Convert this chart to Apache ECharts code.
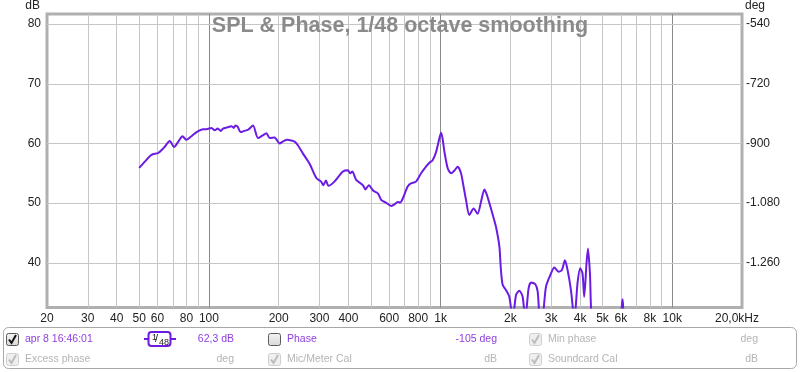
<!DOCTYPE html>
<html><head><meta charset="utf-8">
<script src="https://cdn.jsdelivr.net/npm/echarts@6/dist/echarts.min.js"></script>
<style>html,body{margin:0;padding:0;background:#fff}#c{width:800px;height:372px}</style>
</head><body><div id="c"></div>
<script>
// ---- data ----
const freqHz = [50,53,56.5,60.4,64,67.8,70.7,74,76.9,80,84,88.4,94.4,97.5,102.6,106,109,112.6,115,120,125,128,130,133,137,142,147.5,155,162.8,170,177,183,192,202,210,218,226,234.5,242,254.6,272,290.8,305,312,320,328,348,378.6,398,407,416,432,461.8,474,490,511,537,555,580,612,632,653,669,687,721,745,783,824,865,897,924,955,987,1005,1020,1039,1074,1110,1150,1185,1225,1260,1288,1330,1388,1444,1500,1545,1580,1624,1680,1735,1794,1820,1853,1917,1980,2050,2116,2187,2260,2320,2398,2457,2564,2624,2690,2760,2851,2995,3096,3230,3340,3442,3532,3653,3780,3900,4006,4098,4168,4266,4326,4413,4500,4800,5500,5950,6100,6250,7000];
const splDb = [55.9,57.0,58.1,58.4,59.3,60.4,59.4,60.4,61.2,60.6,61.2,61.9,62.4,62.4,62.6,62.2,62.5,62.1,62.5,62.7,62.9,62.6,63.0,62.8,61.9,62.1,62.3,63.0,60.9,61.3,61.7,60.9,61.0,60.0,60.4,60.6,60.5,60.3,59.7,58.3,56.6,54.2,53.6,53.0,53.8,52.9,53.6,55.3,55.5,55.0,55.3,53.9,53.0,52.3,53.0,52.1,51.6,50.5,50.1,49.5,49.8,50.2,50.1,50.8,52.8,53.3,53.6,55.0,56.1,56.8,57.2,58.5,60.8,61.8,60.8,58.6,55.8,55.0,55.5,56.1,55.0,52.5,50.5,48.0,49.1,48.2,50.5,52.3,51.5,50.0,48.0,46.0,42.7,39.0,36.3,35.4,34.3,30.5,34.6,35.3,34.3,30.5,35.7,36.7,36.4,35.2,30.5,31.0,36.0,38.2,39.2,38.5,38.8,40.4,38.8,35.4,30.5,36.6,39.1,38.2,34.3,40.0,42.4,38.2,30.5,28.0,28.0,30.0,33.9,30.0,28.0];

const xTickValues = [20,30,40,50,60,80,100,200,300,400,600,800,1000,2000,3000,4000,5000,6000,8000,10000,20000];
const xTickLabels = ['20','30','40','50','60','80','100','200','300','400','600','800','1k','2k','3k','4k','5k','6k','8k','10k','20,0kHz'];
const xMinorGrid = [30,40,50,60,70,80,90,200,300,400,500,600,700,800,900,2000,3000,4000,5000,6000,7000,8000,9000];
const xMajorGrid = [100,1000,10000];
const dbTickValues = [40,50,60,70,80];
const phaseTickValues = [-540,-720,-900,-1080,-1260];

const dbRange = [32.5, 81.7];
const phaseRange = [-540 - 18 * (80 - dbRange[0]), -540 + 18 * (dbRange[1] - 80)];

// ---- styles ----
const FONT = 'Liberation Sans';
const PURPLE_LINE = '#6b1be3';
const PURPLE_TXT = '#9040e0';
const GRAY_TXT = '#b4b4b4';
const CLEAR = 'rgba(0,0,0,0)';

function fmtDeg(v) {
  const s = String(Math.abs(v));
  const t = s.length > 3 ? s.slice(0, s.length - 3) + '.' + s.slice(-3) : s;
  return (v < 0 ? '-' : '') + t;
}

const gridLineData = [];
xMinorGrid.forEach(v => gridLineData.push({xAxis: v, lineStyle: {color: '#c6c6c6', width: 1, type: 'solid'}, label: {show: false}}));
xMajorGrid.forEach(v => gridLineData.push({xAxis: v, lineStyle: {color: '#8a8a8a', width: 1, type: 'solid'}, label: {show: false}}));
dbTickValues.forEach(v => gridLineData.push({yAxis: v, lineStyle: {color: '#c6c6c6', width: 1, type: 'solid'}, label: {show: false}}));
xTickValues.forEach((v, i) => gridLineData.push({xAxis: v, lineStyle: {color: CLEAR, width: 1},
  label: {show: true, position: 'start', distance: 5, formatter: xTickLabels[i], color: '#222', fontFamily: FONT, fontSize: 12,
          padding: i === xTickValues.length - 1 ? [0, 10, 0, 0] : 0}}));
dbTickValues.forEach(v => gridLineData.push({yAxis: v, lineStyle: {color: CLEAR, width: 1}, label: {show: true, position: 'start', distance: 6, formatter: String(v), color: '#222', fontFamily: FONT, fontSize: 12}}));

const phaseLabelData = phaseTickValues.map(v => ({yAxis: v, lineStyle: {color: CLEAR, width: 1}, label: {show: true, position: 'end', distance: 4, formatter: fmtDeg(v), color: '#222', fontFamily: FONT, fontSize: 12}}));

// ---- legend panel graphics ----
function checkbox(x, y, state) {
  const dim = state === 'dim';
  const children = [{type: 'rect', shape: {x: x + 0.5, y: y + 0.5, width: 12, height: 12, r: 2},
    style: {fill: dim ? '#efefef' : {type: 'linear', x: 0, y: 0, x2: 0, y2: 1, colorStops: [{offset: 0, color: '#f4f4f4'}, {offset: 1, color: '#d8d8d8'}]},
            stroke: dim ? '#cfcfcf' : '#5a5a5a', lineWidth: 1}}];
  if (state !== 'off') {
    children.push({type: 'polyline', shape: {points: [[x + 3, y + 6.5], [x + 5.5, y + 10], [x + 10, y + 2]]},
      style: {stroke: dim ? '#bcbcbc' : '#111', lineWidth: 2, fill: null}});
  }
  return {type: 'group', children};
}
function txt(x, y, s, color, align) {
  return {type: 'text', x, y, style: {text: s, fill: color, font: '10.5px "' + FONT + '"', textAlign: align || 'left', textVerticalAlign: 'middle'}};
}
const R1 = 339, R2 = 359;
const graphics = [
  {type: 'rect', shape: {x: 3.5, y: 327.5, width: 793, height: 41, r: 5}, style: {fill: '#fff', stroke: '#a8a8a8', lineWidth: 1}},
  checkbox(6, 333, 'on'), txt(25, R1, 'apr 8 16:46:01', PURPLE_TXT),
  {type: 'line', shape: {x1: 144, y1: R1, x2: 176, y2: R1}, style: {stroke: PURPLE_LINE, lineWidth: 2}},
  {type: 'rect', shape: {x: 148.5, y: 332, width: 22, height: 14, r: 3}, style: {fill: '#fff', stroke: PURPLE_LINE, lineWidth: 2}},
  {type: 'text', x: 152, y: 333, style: {text: '1', fill: '#222', font: '9px "' + FONT + '"'}},
  {type: 'text', x: 155, y: 333, style: {text: '/', fill: '#222', font: '11px "' + FONT + '"'}},
  {type: 'text', x: 159, y: 338, style: {text: '48', fill: '#222', font: '9px "' + FONT + '"'}},
  txt(234, R1, '62,3 dB', PURPLE_TXT, 'right'),
  checkbox(268, 333, 'off'), txt(287, R1, 'Phase', PURPLE_TXT),
  txt(497, R1, '-105 deg', PURPLE_TXT, 'right'),
  checkbox(529, 333, 'dim'), txt(548, R1, 'Min phase', GRAY_TXT),
  txt(758, R1, 'deg', GRAY_TXT, 'right'),
  checkbox(6, 353, 'dim'), txt(25, R2, 'Excess phase', GRAY_TXT),
  txt(234, R2, 'deg', GRAY_TXT, 'right'),
  checkbox(268, 353, 'dim'), txt(287, R2, 'Mic/Meter Cal', GRAY_TXT),
  txt(497, R2, 'dB', GRAY_TXT, 'right'),
  checkbox(529, 353, 'dim'), txt(548, R2, 'Soundcard Cal', GRAY_TXT),
  txt(758, R2, 'dB', GRAY_TXT, 'right'),
  {type: 'text', x: 40, y: 6, style: {text: 'dB', fill: '#222', font: '12px "' + FONT + '"', textAlign: 'right', textVerticalAlign: 'middle'}},
  {type: 'text', x: 745, y: 6, style: {text: 'deg', fill: '#222', font: '12px "' + FONT + '"', textAlign: 'left', textVerticalAlign: 'middle'}}
];

const chart = echarts.init(document.getElementById('c'), null, {renderer: 'canvas'});
chart.setOption({
  animation: false,
  backgroundColor: '#fff',
  title: {text: 'SPL & Phase, 1/48 octave smoothing', left: 'center', top: 15, padding: 0,
    textStyle: {fontFamily: FONT, fontSize: 21.5, fontWeight: 'bold', color: '#8a8a8a'}},
  grid: {left: 47, right: 58, top: 14, bottom: 64.5, show: true, borderColor: '#b0b0b0', borderWidth: 3, backgroundColor: 'transparent'},
  xAxis: {type: 'log', logBase: 10, min: 20, max: 20000, axisLine: {show: false}, axisTick: {show: false}, axisLabel: {show: false}, splitLine: {show: false}, minorSplitLine: {show: false}},
  yAxis: [
    {type: 'value', min: dbRange[0], max: dbRange[1], axisLine: {show: false}, axisTick: {show: false}, axisLabel: {show: false}, splitLine: {show: false}},
    {type: 'value', position: 'right', min: phaseRange[0], max: phaseRange[1], axisLine: {show: false}, axisTick: {show: false}, axisLabel: {show: false}, splitLine: {show: false}}
  ],
  graphic: graphics,
  series: [
    {type: 'line', name: 'grid', z: 1, data: [[20, 0]], showSymbol: false, silent: true,
      markLine: {silent: true, symbol: ['none', 'none'], animation: false, data: gridLineData}},
    {type: 'line', name: 'phase', yAxisIndex: 1, z: 1, data: [[20, -3000]], showSymbol: false, silent: true,
      markLine: {silent: true, symbol: ['none', 'none'], animation: false, data: phaseLabelData}},
    {type: 'line', name: 'SPL', z: 5, data: freqHz.map((f, i) => [f, splDb[i]]), showSymbol: false, smooth: 0.25,
      lineStyle: {color: PURPLE_LINE, width: 2}, clip: true}
  ]
});
</script>
</body></html>
